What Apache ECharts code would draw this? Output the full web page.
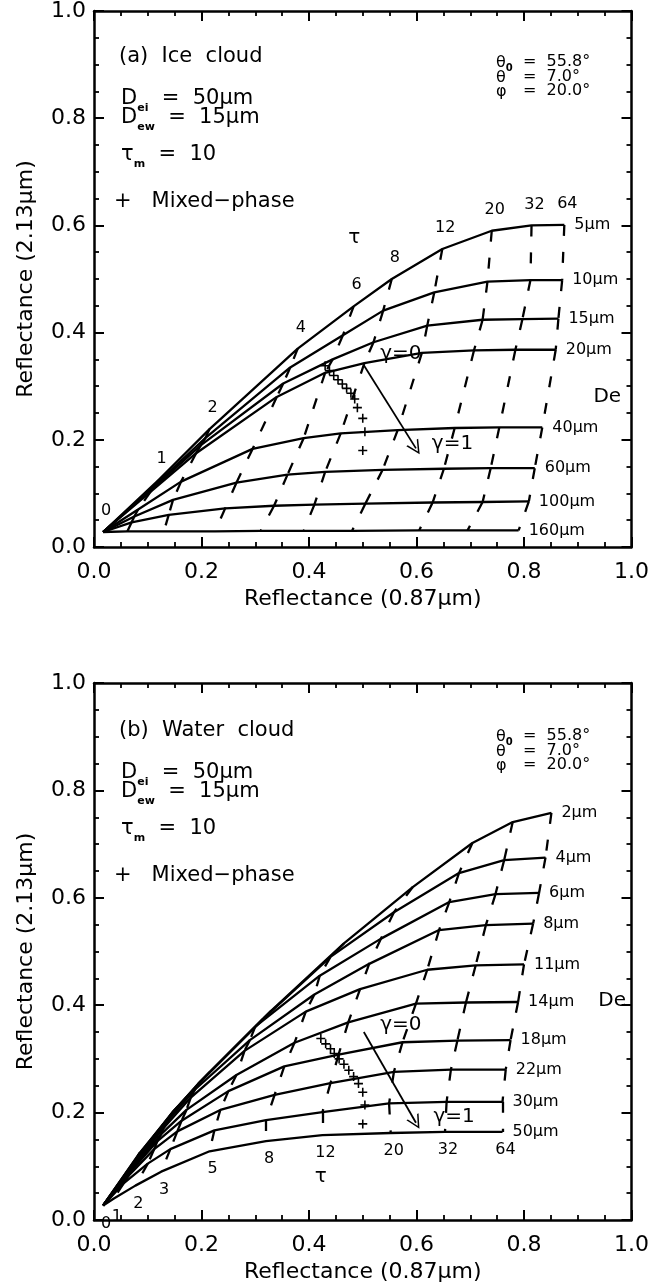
<!DOCTYPE html>
<html><head><meta charset="utf-8">
<script src="https://cdn.jsdelivr.net/npm/echarts/dist/echarts.min.js"></script>
<style>html,body{margin:0;padding:0;background:#fff}#c{width:652px;height:1288px}</style>
</head><body><div id="c"></div>
<script>
// ---------- DATA ----------
// Panel (a) ice cloud: optical thickness values and effective sizes
const tauIce = ['0','1','2','4','6','8','12','20','32','64'];
const deIce = ['5\u03bcm','10\u03bcm','15\u03bcm','20\u03bcm','40\u03bcm','60\u03bcm','100\u03bcm','160\u03bcm'];
// [R0.87, R2.13] at each tau, per De
const ice_5   = [[0.017,0.028],[0.120,0.125],[0.215,0.220],[0.379,0.370],[0.483,0.449],[0.554,0.500],[0.648,0.556],[0.740,0.590],[0.814,0.600],[0.875,0.601]];
const ice_10  = [[0.017,0.028],[0.115,0.117],[0.207,0.203],[0.365,0.335],[0.463,0.395],[0.538,0.441],[0.633,0.475],[0.732,0.495],[0.812,0.498],[0.871,0.498]];
const ice_15  = [[0.017,0.028],[0.110,0.110],[0.199,0.190],[0.352,0.305],[0.444,0.350],[0.520,0.382],[0.620,0.413],[0.723,0.424],[0.797,0.425],[0.864,0.426]];
const ice_20  = [[0.017,0.028],[0.105,0.103],[0.190,0.175],[0.340,0.280],[0.430,0.325],[0.503,0.343],[0.610,0.362],[0.707,0.367],[0.784,0.368],[0.859,0.368]];
const ice_40  = [[0.017,0.028],[0.082,0.070],[0.162,0.122],[0.295,0.183],[0.390,0.203],[0.459,0.212],[0.565,0.218],[0.671,0.222],[0.754,0.223],[0.834,0.223]];
const ice_60  = [[0.017,0.028],[0.075,0.057],[0.147,0.088],[0.265,0.120],[0.360,0.135],[0.430,0.140],[0.537,0.144],[0.651,0.146],[0.738,0.147],[0.820,0.147]];
const ice_100 = [[0.017,0.028],[0.070,0.046],[0.139,0.060],[0.244,0.072],[0.335,0.077],[0.410,0.079],[0.505,0.081],[0.630,0.083],[0.723,0.084],[0.809,0.085]];
const ice_160 = [[0.017,0.028],[0.062,0.029],[0.130,0.029],[0.225,0.029],[0.310,0.030],[0.390,0.030],[0.480,0.030],[0.605,0.031],[0.695,0.031],[0.790,0.031]];
const iceMixed = [[0.430,0.338],[0.438,0.329],[0.446,0.320],[0.454,0.312],[0.462,0.304],[0.470,0.296],[0.478,0.287],[0.485,0.276],[0.490,0.260],[0.500,0.240],[0.504,0.215],[0.500,0.180]];
const iceArrow = [[0.502,0.339],[0.599,0.184]];
const iceNotes = [[0.571,0.361,'\u03b3=0'],[0.667,0.193,'\u03b3=1'],[0.484,0.577,'\u03c4'],[0.955,0.280,'De']];

// Panel (b) water cloud
const tauWater = ['0','1','2','3','5','8','12','20','32','64'];
const deWater = ['2\u03bcm','4\u03bcm','6\u03bcm','8\u03bcm','11\u03bcm','14\u03bcm','18\u03bcm','22\u03bcm','30\u03bcm','50\u03bcm'];
const w_2  = [[0.017,0.027],[0.085,0.125],[0.155,0.210],[0.215,0.275],[0.330,0.390],[0.465,0.515],[0.593,0.620],[0.704,0.702],[0.779,0.741],[0.851,0.758]];
const w_4  = [[0.017,0.027],[0.082,0.120],[0.148,0.203],[0.205,0.265],[0.315,0.375],[0.440,0.490],[0.558,0.573],[0.679,0.646],[0.763,0.670],[0.840,0.675]];
const w_6  = [[0.017,0.027],[0.080,0.115],[0.142,0.195],[0.195,0.255],[0.300,0.360],[0.420,0.455],[0.534,0.524],[0.661,0.592],[0.747,0.607],[0.828,0.609]];
const w_8  = [[0.017,0.027],[0.078,0.110],[0.137,0.185],[0.188,0.243],[0.290,0.335],[0.410,0.420],[0.512,0.477],[0.642,0.540],[0.729,0.549],[0.817,0.552]];
const w_11 = [[0.017,0.027],[0.075,0.103],[0.130,0.172],[0.180,0.228],[0.280,0.315],[0.394,0.388],[0.495,0.430],[0.620,0.466],[0.710,0.474],[0.800,0.476]];
const w_14 = [[0.017,0.027],[0.072,0.097],[0.125,0.160],[0.172,0.205],[0.265,0.270],[0.373,0.330],[0.473,0.368],[0.599,0.403],[0.692,0.405],[0.789,0.406]];
const w_18 = [[0.017,0.027],[0.068,0.090],[0.118,0.147],[0.163,0.185],[0.250,0.240],[0.354,0.286],[0.455,0.308],[0.574,0.331],[0.676,0.334],[0.775,0.335]];
const w_22 = [[0.017,0.027],[0.064,0.082],[0.112,0.132],[0.155,0.165],[0.235,0.205],[0.336,0.233],[0.440,0.255],[0.558,0.276],[0.664,0.280],[0.766,0.280]];
const w_30 = [[0.017,0.027],[0.055,0.068],[0.100,0.105],[0.142,0.132],[0.224,0.167],[0.320,0.186],[0.425,0.201],[0.549,0.217],[0.656,0.220],[0.760,0.220]];
const w_50 = [[0.017,0.027],[0.037,0.040],[0.077,0.064],[0.125,0.090],[0.215,0.128],[0.320,0.147],[0.425,0.158],[0.552,0.162],[0.653,0.164],[0.760,0.164]];
const waterMixed = [[0.422,0.338],[0.431,0.328],[0.440,0.319],[0.447,0.310],[0.456,0.300],[0.465,0.290],[0.474,0.279],[0.483,0.267],[0.492,0.254],[0.500,0.238],[0.504,0.214],[0.500,0.179]];
const waterArrow = [[0.502,0.350],[0.599,0.181]];
const waterNotes = [[0.571,0.363,'\u03b3=0'],[0.670,0.192,'\u03b3=1'],[0.422,0.080,'\u03c4'],[0.964,0.409,'De']];

const iceCurves = [ice_5, ice_10, ice_15, ice_20, ice_40, ice_60, ice_100, ice_160];
const waterCurves = [w_2, w_4, w_6, w_8, w_11, w_14, w_18, w_22, w_30, w_50];

// ---------- CHART ----------
const FF = 'DejaVu Sans';
const BLK = '#000';
const chart = echarts.init(document.getElementById('c'), null, {renderer:'canvas', width:652, height:1288});

const grids = [
  {left:94, top:9, width:539, height:538},
  {left:94, top:683, width:539, height:537}
];

function xAx(g, pos) {
  const main = pos === 'bottom';
  return {
    type:'value', gridIndex:g, position:pos, min:0, max:1, interval:0.2,
    axisLine:{show:true, onZero:false, lineStyle:{color:BLK, width:2.5}},
    axisTick:{show:true, inside:true, length:10, lineStyle:{color:BLK, width:2}},
    minorTick:{show:true, splitNumber:4, length:5, lineStyle:{color:BLK, width:1.8}},
    splitLine:{show:false}, minorSplitLine:{show:false},
    axisLabel:{show:main, margin:14, fontSize:22, fontFamily:FF, color:BLK, formatter:v=>v.toFixed(1)},
    name: main ? 'Reflectance (0.87\u03bcm)' : '', nameLocation:'middle', nameGap:41,
    nameTextStyle:{fontSize:22, fontFamily:FF, color:BLK}
  };
}
function yAx(g, pos) {
  const main = pos === 'left';
  return {
    type:'value', gridIndex:g, position:pos, min:0, max:1, interval:0.2,
    axisLine:{show:true, onZero:false, lineStyle:{color:BLK, width:2.5}},
    axisTick:{show:true, inside:true, length:10, lineStyle:{color:BLK, width:2}},
    minorTick:{show:true, splitNumber:4, length:5, lineStyle:{color:BLK, width:1.8}},
    splitLine:{show:false}, minorSplitLine:{show:false},
    axisLabel:{show:main, margin:8, fontSize:22, fontFamily:FF, color:BLK, formatter:v=>v.toFixed(1)},
    name: main ? 'Reflectance (2.13\u03bcm)' : '', nameLocation:'middle', nameGap:57,
    nameTextStyle:{fontSize:22, fontFamily:FF, color:BLK}
  };
}

const xAxes = [xAx(0,'bottom'), xAx(0,'top'), xAx(1,'bottom'), xAx(1,'top')];
const yAxes = [yAx(0,'left'), yAx(0,'right'), yAx(1,'left'), yAx(1,'right')];

const plusSym = 'path://M3.3,0h1.4v3.3h3.3v1.4h-3.3v3.3h-1.4v-3.3h-3.3v-1.4h3.3z';
const arrowSym = 'path://M0,10L5,0L10,10L8.8,10L5,2.4L1.2,10Z';

function panelSeries(curves, names, taus, mixed, arrow, xi, yi) {
  const s = [];
  curves.forEach((c, i) => {
    s.push({
      type:'line', xAxisIndex:xi, yAxisIndex:yi, data:c, showSymbol:false, symbol:'none',
      lineStyle:{color:BLK, width:2.3}, silent:true, z:3,
      endLabel:{show:true, formatter:names[i], distance:10, fontSize:16, fontFamily:FF, color:BLK}
    });
  });
  // constant-tau dashed lines, one segment between neighbouring De curves
  const segs = [];
  for (let j = 1; j < taus.length; j++) {
    for (let i = 0; i < curves.length - 1; i++) {
      segs.push({coords:[curves[i][j], curves[i+1][j]]});
    }
  }
  s.push({
    type:'lines', coordinateSystem:'cartesian2d', xAxisIndex:xi, yAxisIndex:yi, polyline:false,
    data:segs, silent:true, z:2,
    lineStyle:{color:BLK, width:2.3, type:[11,16], opacity:1, curveness:0}
  });
  // mixed-phase points
  s.push({
    type:'scatter', xAxisIndex:xi, yAxisIndex:yi, data:mixed, symbol:plusSym, symbolSize:9,
    itemStyle:{color:BLK, opacity:1}, silent:true, z:5
  });
  // gamma arrow
  s.push({
    type:'lines', coordinateSystem:'cartesian2d', xAxisIndex:xi, yAxisIndex:yi, polyline:false,
    data:[{coords:arrow}], symbol:['none', arrowSym], symbolSize:14, silent:true, z:4,
    lineStyle:{color:BLK, width:1.8, type:'solid', opacity:1}
  });
  return s;
}

const series = [
  ...panelSeries(iceCurves, deIce, tauIce, iceMixed, iceArrow, 0, 0),
  ...panelSeries(waterCurves, deWater, tauWater, waterMixed, waterArrow, 2, 2)
];

function textBlock(oy, title) {
  const m = {fontSize:21, fontFamily:FF, color:BLK, verticalAlign:'bottom', padding:[0,0,5,0]};
  const sb = {fontSize:11, fontFamily:FF, fontWeight:'bold', color:BLK, verticalAlign:'bottom'};
  const ms = {fontSize:16, fontFamily:FF, color:BLK, verticalAlign:'bottom', padding:[0,0,3,0]};
  const ss = {fontSize:10, fontFamily:FF, fontWeight:'bold', color:BLK, verticalAlign:'bottom'};
  const T = (x, y, text, rich, size) => ({
    type:'text', x:x, y:y, silent:true, z:10,
    style:{text:text, fill:BLK, font: (size||21) + 'px "DejaVu Sans"', align:'left', verticalAlign:'middle', rich:rich}
  });
  return [
    T(119, oy+57, title, null, 21),
    T(121, oy+101, '{m|D}{s|ei}{m|  =  50\u03bcm}', {m:m, s:sb}),
    T(121, oy+120, '{m|D}{s|ew}{m|  =  15\u03bcm}', {m:m, s:sb}),
    T(121, oy+157, '{m|\u03c4}{s|m}{m|  =  10}', {m:m, s:sb}),
    T(114, oy+202, '+   Mixed\u2212phase', null, 21),
    T(496, oy+64, '{m|\u03b8}{s|0}', {m:ms, s:ss}),
    T(496, oy+78, '\u03b8', null, 16),
    T(496, oy+92, '\u03c6', null, 16),
    T(523, oy+62, '=  55.8\u00b0', null, 16),
    T(523, oy+77, '=  7.0\u00b0', null, 16),
    T(523, oy+91, '=  20.0\u00b0', null, 16)
  ];
}

chart.setOption({
  animation:false,
  backgroundColor:'#fff',
  grid:grids,
  xAxis:xAxes,
  yAxis:yAxes,
  series:series,
  graphic:[...textBlock(0, '(a)  Ice  cloud'), ...textBlock(674, '(b)  Water  cloud')]
});

// data-anchored text: tau labels and notes, placed through the axes' own scales
function dataTexts(gridIndex, edgeCurve, taus, dy, notes) {
  const out = [];
  edgeCurve.forEach((p, j) => {
    const px = chart.convertToPixel({gridIndex:gridIndex}, p);
    out.push({type:'text', x:px[0]+3, y:px[1]+dy, silent:true, z:10,
      style:{text:taus[j], fill:BLK, font:'16px "DejaVu Sans"', align:'center', verticalAlign:'middle'}});
  });
  notes.forEach(n => {
    const px = chart.convertToPixel({gridIndex:gridIndex}, [n[0], n[1]]);
    out.push({type:'text', x:px[0], y:px[1], silent:true, z:10,
      style:{text:n[2], fill:BLK, font:'20px "DejaVu Sans"', align:'center', verticalAlign:'middle'}});
  });
  return out;
}
const extra = [
  ...dataTexts(0, ice_5, tauIce, -21, iceNotes),
  ...dataTexts(1, w_50, tauWater, 18, waterNotes)
];
chart.setOption({
  graphic:[...textBlock(0, '(a)  Ice  cloud'), ...textBlock(674, '(b)  Water  cloud'), ...extra]
});
</script>
</body></html>
